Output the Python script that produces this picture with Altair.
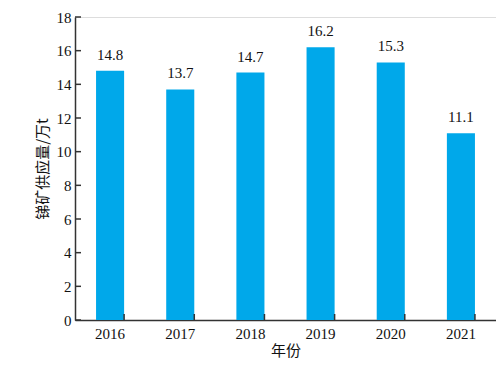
import altair as alt
import pandas as pd

years = ["2016", "2017", "2018", "2019", "2020", "2021"]
supply = [14.8, 13.7, 14.7, 16.2, 15.3, 11.1]
y_ticks = [0, 2, 4, 6, 8, 10, 12, 14, 16, 18]

df = pd.DataFrame({"year": years, "supply": supply})
tick_df = pd.DataFrame({"v": y_ticks})

W, H = 421, 303
SERIF = "Liberation Serif, Times New Roman, Noto Sans CJK SC"
CJK = "Noto Sans CJK SC"
TXT = "#111"

x_scale = alt.Scale(paddingInner=0.6, paddingOuter=0.3)
y_scale = alt.Scale(domain=[0, 18], nice=False)

x_axis = alt.Axis(title="年份", labelAngle=0, ticks=False, labelPadding=6,
                  labelOverlap=False,
                  titleFont=CJK, titleFontSize=15, titleFontWeight="normal",
                  titlePadding=2, titleColor=TXT,
                  labelFont=SERIF, labelFontSize=15, labelColor=TXT,
                  domainColor="#333", domainWidth=1.5)
y_axis = alt.Axis(title="锑矿供应量/万t", values=y_ticks, ticks=False,
                  labelPadding=4, labelOverlap=False, labelFlush=False,
                  grid=False, titleFont=CJK, titleFontSize=15, titleFontWeight="normal",
                  titlePadding=6, titleColor=TXT,
                  labelFont=SERIF, labelFontSize=15, labelColor=TXT,
                  domainColor="#333", domainWidth=1.5)

base = alt.Chart(df)

bars = base.mark_bar(color="#00a8ea").encode(
    x=alt.X("year:N", scale=x_scale, sort=years, axis=x_axis),
    y=alt.Y("supply:Q", scale=y_scale, axis=y_axis),
)

labels = base.mark_text(baseline="bottom", dy=-8, font=SERIF, fontSize=15, color=TXT).encode(
    x=alt.X("year:N", scale=x_scale, sort=years, axis=x_axis),
    y=alt.Y("supply:Q", scale=y_scale, axis=y_axis),
    text=alt.Text("supply:Q", format=".1f"),
)

xticks = base.mark_rule(color="#333", strokeWidth=1.5).encode(
    x=alt.X("year:N", scale=x_scale, sort=years, bandPosition=1, axis=x_axis),
    y=alt.value(H),
    y2=alt.value(H - 6),
)

yticks = alt.Chart(tick_df).mark_rule(color="#333", strokeWidth=1.5).encode(
    y=alt.Y("v:Q", scale=y_scale, axis=y_axis),
    x=alt.value(0),
    x2=alt.value(6),
)

chart = alt.layer(bars, labels, xticks, yticks).properties(
    width=W, height=H,
    padding={"left": 67, "top": 9, "right": 0, "bottom": 40},
    autosize="none",
).configure_view(stroke=None).configure_axis(labelOverlap=False).configure(background="white")

chart.save("out.html", embed_options={"renderer": "svg", "actions": False})
